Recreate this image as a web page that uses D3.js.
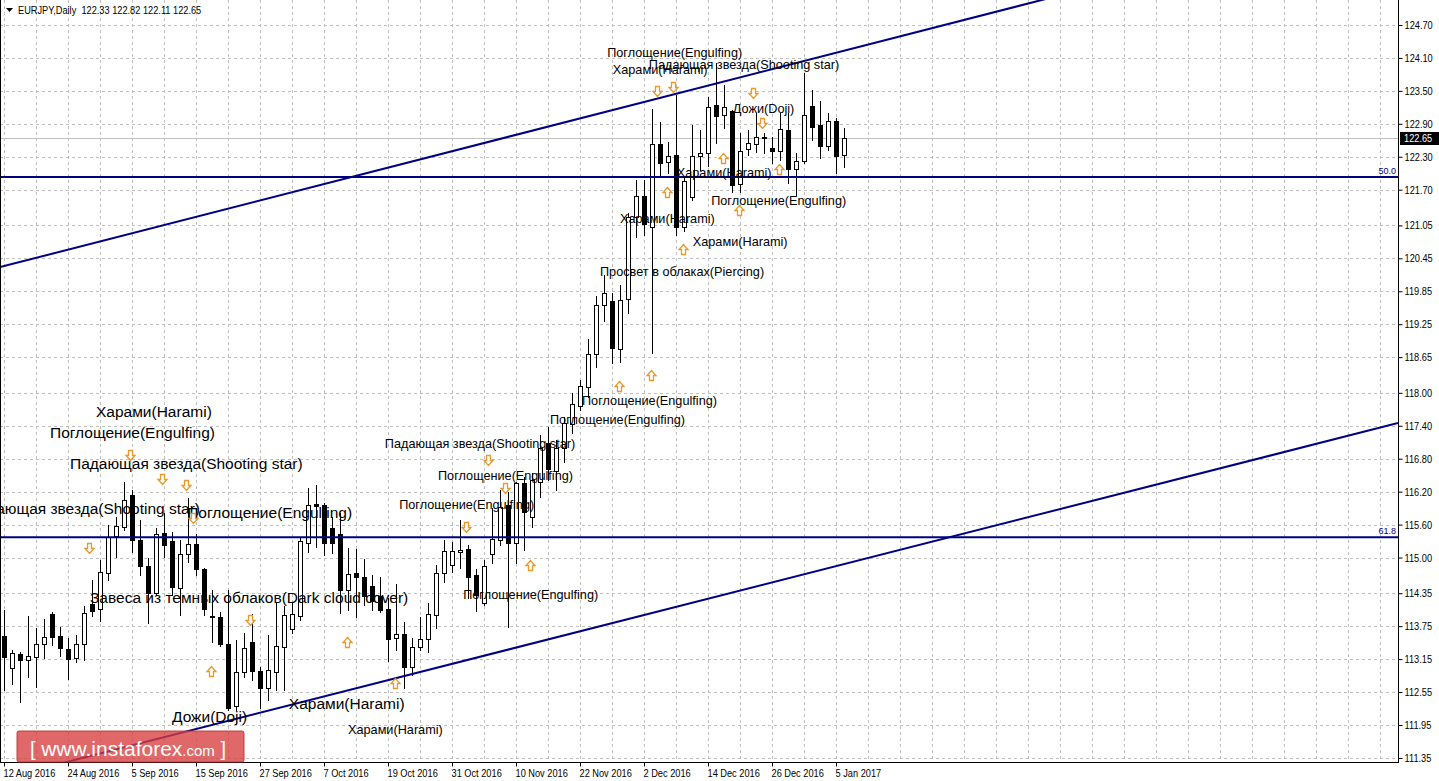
<!DOCTYPE html>
<html><head><meta charset="utf-8">
<script src="https://cdn.jsdelivr.net/npm/d3@7"></script>
<style>
body{margin:0;background:#fff;}
svg{display:block;}
</style></head><body>
<svg id="c" width="1439" height="781"></svg>
<script>
// ---------- DATA ----------
const titleText = "EURJPY,Daily  122.33 122.82 122.11 122.65";
const dateLabels = ["12 Aug 2016","24 Aug 2016","5 Sep 2016","15 Sep 2016","27 Sep 2016","7 Oct 2016","19 Oct 2016","31 Oct 2016","10 Nov 2016","22 Nov 2016","2 Dec 2016","14 Dec 2016","26 Dec 2016","5 Jan 2017"];
const priceTicks = [124.70,124.10,123.50,122.90,122.30,121.70,121.05,120.45,119.85,119.25,118.65,118.00,117.40,116.80,116.20,115.60,115.00,114.35,113.75,113.15,112.55,111.95,111.35];

const openP = [113.57,112.99,113.24,113.13,113.19,113.42,113.97,113.57,113.33,113.17,113.42,114.15,114.06,114.72,115.39,115.56,116.14,115.32,114.85,114.35,
115.45,115.30,114.45,115.06,115.25,114.79,113.93,113.92,113.42,112.30,112.91,113.46,112.93,112.62,112.91,113.37,113.70,113.93,115.26,115.98,
115.96,115.54,115.43,114.41,114.72,114.65,114.48,114.30,114.06,113.53,113.61,113.01,113.37,113.52,113.95,114.72,114.86,115.10,115.16,114.68,
114.17,115.06,115.32,115.96,115.26,116.36,115.74,116.38,117.09,116.58,117.00,117.43,117.76,118.11,118.71,119.60,119.67,118.80,119.71,121.20,
121.59,121.02,122.53,122.20,122.33,121.02,121.57,122.31,122.37,123.24,123.06,123.13,121.80,122.44,122.53,122.66,122.46,122.40,122.79,122.08,
122.22,123.22,122.88,122.50,122.95,122.33];
const highP = [114.04,113.32,113.28,113.93,113.72,113.88,114.01,113.73,113.53,113.59,114.12,114.60,114.95,115.59,115.74,116.38,116.23,115.68,114.99,115.54,
115.81,115.47,115.32,116.08,115.43,114.81,114.41,114.01,114.41,113.50,113.62,113.97,113.01,113.59,114.17,114.12,114.17,115.36,116.27,116.32,
115.99,115.74,115.81,115.17,115.16,114.97,114.68,114.65,114.26,114.52,113.83,113.53,113.92,114.17,114.86,115.32,115.28,115.68,115.23,114.79,
114.95,115.90,116.23,116.19,116.38,116.47,116.54,117.23,117.38,117.14,117.56,118.00,118.23,118.98,119.76,120.15,119.82,119.96,121.28,121.88,
121.88,123.17,122.93,122.57,123.42,121.93,122.88,122.79,123.39,124.01,123.61,123.16,122.73,122.79,123.10,122.73,122.66,123.10,123.10,122.37,
123.83,123.52,123.32,123.10,123.00,122.82];
const lowP = [112.59,112.70,112.37,112.82,112.64,113.17,113.41,113.21,112.79,113.10,113.13,113.93,113.84,114.59,115.01,115.50,115.10,114.68,113.81,114.32,
115.01,114.32,113.95,114.92,114.68,113.95,113.46,113.39,112.22,112.22,112.82,112.77,112.26,112.40,112.59,112.59,113.62,113.86,115.10,115.19,
115.05,115.08,113.99,114.04,113.92,114.14,114.04,114.01,113.12,113.32,112.62,112.86,113.32,113.28,113.72,114.55,114.74,114.81,114.26,114.03,
114.14,114.90,115.23,113.73,114.90,115.14,115.56,116.10,116.41,116.23,116.74,117.27,117.69,117.92,118.47,119.31,118.54,118.56,119.45,120.84,
120.87,118.73,121.95,122.00,120.87,120.95,121.51,122.06,122.13,122.55,122.82,121.66,121.66,122.33,122.39,122.37,122.19,122.24,121.82,121.60,
122.18,122.60,122.28,122.42,122.00,122.11];
const closeP = [113.19,113.26,113.13,113.21,113.42,113.55,113.55,113.35,113.15,113.42,113.99,114.03,114.74,115.37,115.57,116.05,115.32,114.85,114.35,115.43,
115.23,114.46,115.06,115.25,114.79,114.06,113.91,113.42,112.26,112.91,113.35,112.93,112.62,112.95,113.39,113.95,113.97,115.30,115.96,115.94,
115.26,115.26,114.41,114.70,114.65,114.30,114.21,114.04,113.52,113.61,113.01,113.37,113.52,113.97,114.72,115.12,115.12,115.14,114.65,114.32,
114.85,115.34,115.92,115.26,116.36,115.83,116.41,117.00,116.61,117.00,117.45,117.80,118.12,118.71,119.60,119.82,118.82,119.69,121.20,121.59,
121.08,122.53,122.19,122.31,121.02,121.86,122.31,122.37,123.21,123.04,123.21,121.79,122.40,122.55,122.66,122.65,122.40,122.81,122.08,122.22,
123.06,122.84,122.50,122.95,122.31,122.65];

const lastPrice = 122.65;
const fiboLevels = [121.93, 115.37];
const fiboNames = ["50.0", "61.8"];
// trend lines: [barIndex, price] anchor pairs
const upperTrend = [[-0.5, 120.29], [128.25, 125.10]];
const lowerTrend = [[29.5, 112.08], [174.25, 117.45]];

const downArrowIdx   = [10.6, 15.75, 19.75, 22.75, 23.6, 30.75, 57.75, 60.5, 62.6, 81.6, 83.6, 93.6, 94.75];
const downArrowPrice = [115.17,116.87,116.43,116.32,115.72,113.86,115.56,116.78,116.27,123.50,123.57,123.46,122.91];
const upArrowIdx   = [25.9, 42.9, 48.9, 65.75, 76.9, 80.9, 82.9, 84.9, 89.9, 91.9, 96.9];
const upArrowPrice = [112.93,113.46,112.71,114.86,118.12,118.32,121.66,120.62,122.28,121.33,122.08];

const labelText = ["Харами(Harami)","Поглощение(Engulfing)","Падающая звезда(Shooting star)","Падающая звезда(Shooting star)","Поглощение(Engulfing)",
"Завеса из темных облаков(Dark cloud cover)","Дожи(Doji)","Харами(Harami)",
"Харами(Harami)","Поглощение(Engulfing)","Поглощение(Engulfing)","Поглощение(Engulfing)","Падающая звезда(Shooting star)","Поглощение(Engulfing)",
"Поглощение(Engulfing)","Просвет в облаках(Piercing)","Харами(Harami)","Харами(Harami)","Поглощение(Engulfing)","Харами(Harami)","Дожи(Doji)",
"Харами(Harami)","Поглощение(Engulfing)","Падающая звезда(Shooting star)"];
const labelIdx = [11.5,5.75,8.25,24.5,22.9,10.75,21,35.6, 43,57.4,49.4,54.25,47.6,68.25,72.25,74.5,86.1,77,88.4,84.1,91.1,76.1,75.4,80.6];
const labelPrice = [117.56,117.18,116.61,115.79,115.72,114.17,112.00,112.24, 111.79,114.24,115.88,116.41,117.00,117.43,117.78,120.13,120.67,121.09,121.42,121.93,123.10,123.81,124.12,123.90];
const labelLarge = [1,1,1,1,1,1,1,1, 0,0,0,0,0,0,0,0,0,0,0,0,0,0,0,0];
const labelEnd   = [0,0,0,1,0,0,0,0, 0,0,0,0,0,0,0,0,0,0,0,0,0,0,0,0];

const watermark = ["[", "www.instaforex", ".com", "]"];

// ---------- CHART ----------
const svg = d3.select("#c");
const plotW = 1398, plotH = 762;
const x = d3.scaleLinear().domain([-0.5, 174.25]).range([0, plotW]);
const y = d3.scaleLinear().domain([111.276, 125.155]).range([plotH, 0]);
const px = v => Math.round(x(v));
const py = v => Math.round(y(v));
const SX = 0.84; // horizontal condensing for Tahoma-like axis text

svg.append("rect").attr("width",1439).attr("height",781).attr("fill","#fff");
svg.append("defs").append("clipPath").attr("id","plot")
  .append("rect").attr("x",0).attr("y",0).attr("width",plotW).attr("height",plotH);

const g = svg.append("g");
// grid
const gridIdx = d3.range(0, 175, 4);
g.selectAll(".vg").data(gridIdx).join("line")
  .attr("x1", d=>px(d)+0.5).attr("x2", d=>px(d)+0.5).attr("y1",0).attr("y2",plotH)
  .attr("stroke","#c0c0c0").attr("stroke-dasharray","3,3");
g.selectAll(".hg").data(priceTicks).join("line")
  .attr("x1",0).attr("x2",plotW).attr("y1",d=>py(d)+0.5).attr("y2",d=>py(d)+0.5)
  .attr("stroke","#c0c0c0").attr("stroke-dasharray","3,3");
// last price line
g.append("line").attr("x1",0).attr("x2",plotW).attr("y1",py(lastPrice)+0.5).attr("y2",py(lastPrice)+0.5)
  .attr("stroke","#c0c0c0");

// candles
const bars = openP.map((o,i)=>({i, o, h:highP[i], l:lowP[i], c:closeP[i]}));
const cg = svg.append("g").attr("clip-path","url(#plot)");
cg.selectAll(".wick").data(bars).join("line")
  .attr("x1",d=>px(d.i)+0.5).attr("x2",d=>px(d.i)+0.5)
  .attr("y1",d=>py(d.h)).attr("y2",d=>py(d.l)+1)
  .attr("stroke","#000");
cg.selectAll(".body").data(bars).join("rect")
  .each(function(d){
    const s = d3.select(this);
    const yo = py(d.o), yc = py(d.c);
    const cx = px(d.i);
    if (d.c > d.o) {
      s.attr("x",cx-1.5).attr("y",yc+0.5).attr("width",4).attr("height",Math.max(1,yo-yc))
       .attr("fill","#fff").attr("stroke","#000");
    } else {
      s.attr("x",cx-2).attr("y",yo).attr("width",5).attr("height",Math.max(1,yc-yo+1))
       .attr("fill","#000");
    }
  });

// fibo horizontal lines
const lg = svg.append("g").attr("clip-path","url(#plot)");
lg.selectAll(".fib").data(fiboLevels).join("line")
  .attr("x1",0).attr("x2",plotW).attr("y1",d=>y(d)).attr("y2",d=>y(d))
  .attr("stroke","#000080").attr("stroke-width",2);
svg.selectAll(".fibt").data(fiboLevels).join("text")
  .attr("x",plotW-2).attr("y",d=>y(d)-3).attr("text-anchor","end")
  .attr("font-family","Liberation Sans, Arial").attr("font-size",9).attr("fill","#000080")
  .text((d,i)=>fiboNames[i]);
// trend lines (rays through anchors, extended across plot)
function extLine(a){
  const [p0,p1] = a;
  const sl = (p1[1]-p0[1])/(p1[0]-p0[0]);
  const i0 = x.domain()[0], i1 = x.domain()[1];
  return [[i0, p0[1]+sl*(i0-p0[0])],[i1, p0[1]+sl*(i1-p0[0])]];
}
[upperTrend, lowerTrend].forEach(t=>{
  const e = extLine(t);
  lg.append("line").attr("x1",x(e[0][0])).attr("y1",y(e[0][1])).attr("x2",x(e[1][0])).attr("y2",y(e[1][1]))
    .attr("stroke","#000080").attr("stroke-width",2);
});

// labels
const tg = svg.append("g").attr("clip-path","url(#plot)");
tg.selectAll("text").data(labelText).join("text")
  .attr("x",(d,i)=>x(labelIdx[i])).attr("y",(d,i)=>y(labelPrice[i]))
  .attr("text-anchor",(d,i)=>labelEnd[i]?"end":"start")
  .attr("font-family","Liberation Sans, Arial, sans-serif")
  .attr("font-size",(d,i)=>labelLarge[i]?15.5:12.7)
  .attr("fill","#000").text(d=>d);

// arrows
const ag = svg.append("g");
const downPath = "M-2,-5H2V0H4.5L0,5L-4.5,0H-2Z";
const upPath = "M-2,5H2V0H4.5L0,-5L-4.5,0H-2Z";
ag.selectAll(".da").data(downArrowIdx).join("path")
  .attr("transform",(d,i)=>`translate(${px(d)+0.5},${py(downArrowPrice[i])+0.5})`)
  .attr("d",downPath).attr("fill","#fff").attr("stroke","#e89a2c").attr("stroke-width",1.3);
ag.selectAll(".ua").data(upArrowIdx).join("path")
  .attr("transform",(d,i)=>`translate(${px(d)+0.5},${py(upArrowPrice[i])+0.5})`)
  .attr("d",upPath).attr("fill","#fff").attr("stroke","#e89a2c").attr("stroke-width",1.3);

// axes
const axFont = "Liberation Sans, Arial";
const yAxis = d3.axisRight(y).tickValues(priceTicks).tickFormat(d3.format(".2f")).tickSize(4).tickPadding(2).tickSizeOuter(0);
const ya = svg.append("g").attr("transform",`translate(${plotW+0.5},0)`).call(yAxis);
ya.select(".domain").attr("d",`M0,0V${plotH+0.5}`);
ya.selectAll("text").attr("font-family",axFont).attr("font-size",11).attr("fill","#000")
  .attr("x",6/SX).attr("transform",`scale(${SX},1)`);
ya.selectAll(".tick line").attr("stroke","#000");

const tickIdx = dateLabels.map((d,i)=>i*8);
const xAxis = d3.axisBottom(x).tickValues(tickIdx).tickFormat((d,i)=>dateLabels[i]).tickSize(4).tickPadding(3).tickSizeOuter(0);
const xa = svg.append("g").attr("transform",`translate(0,${plotH+0.5})`).call(xAxis);
xa.select(".domain").attr("d",`M0,0H${plotW+1}`);
xa.selectAll(".tick").attr("transform",d=>`translate(${px(d)+0.5},0)`);
xa.selectAll("text").attr("font-family",axFont).attr("font-size",11).attr("fill","#000")
  .attr("text-anchor","start").attr("x",-1/SX).attr("transform",`scale(${SX},1)`);
// left border
svg.append("line").attr("x1",0.5).attr("x2",0.5).attr("y1",0).attr("y2",plotH).attr("stroke","#000");

// price box
svg.append("rect").attr("x",plotW+2).attr("y",py(lastPrice)-6).attr("width",41).attr("height",13).attr("fill","#000");
svg.append("text").attr("x",(plotW+6)/SX).attr("y",py(lastPrice)+4).attr("font-family",axFont).attr("font-size",11)
  .attr("transform",`scale(${SX},1)`).attr("fill","#fff").text(d3.format(".2f")(lastPrice));

// title
svg.append("path").attr("d","M6,8H13L9.5,12Z").attr("fill","#000");
svg.append("text").attr("x",18/SX).attr("y",14).attr("font-family",axFont).attr("font-size",11).attr("fill","#000")
  .attr("transform",`scale(${SX},1)`)
  .attr("xml:space","preserve").style("white-space","pre").text(titleText);

// watermark
const wm = svg.append("g");
wm.append("rect").attr("x",17).attr("y",731).attr("width",227).attr("height",31).attr("rx",2)
  .attr("fill","rgba(216,62,62,0.78)").attr("stroke","rgba(190,50,50,0.9)");
const wt = wm.append("text").attr("x",30).attr("y",756).attr("fill","#fff").attr("font-family","Liberation Sans, Arial");
wt.append("tspan").attr("font-size",20).text(watermark[0]+"  ");
wt.append("tspan").attr("font-size",21).text(watermark[1]);
wt.append("tspan").attr("font-size",15).text(watermark[2]);
wt.append("tspan").attr("font-size",20).text(" "+watermark[3]);
</script>
</body></html>
